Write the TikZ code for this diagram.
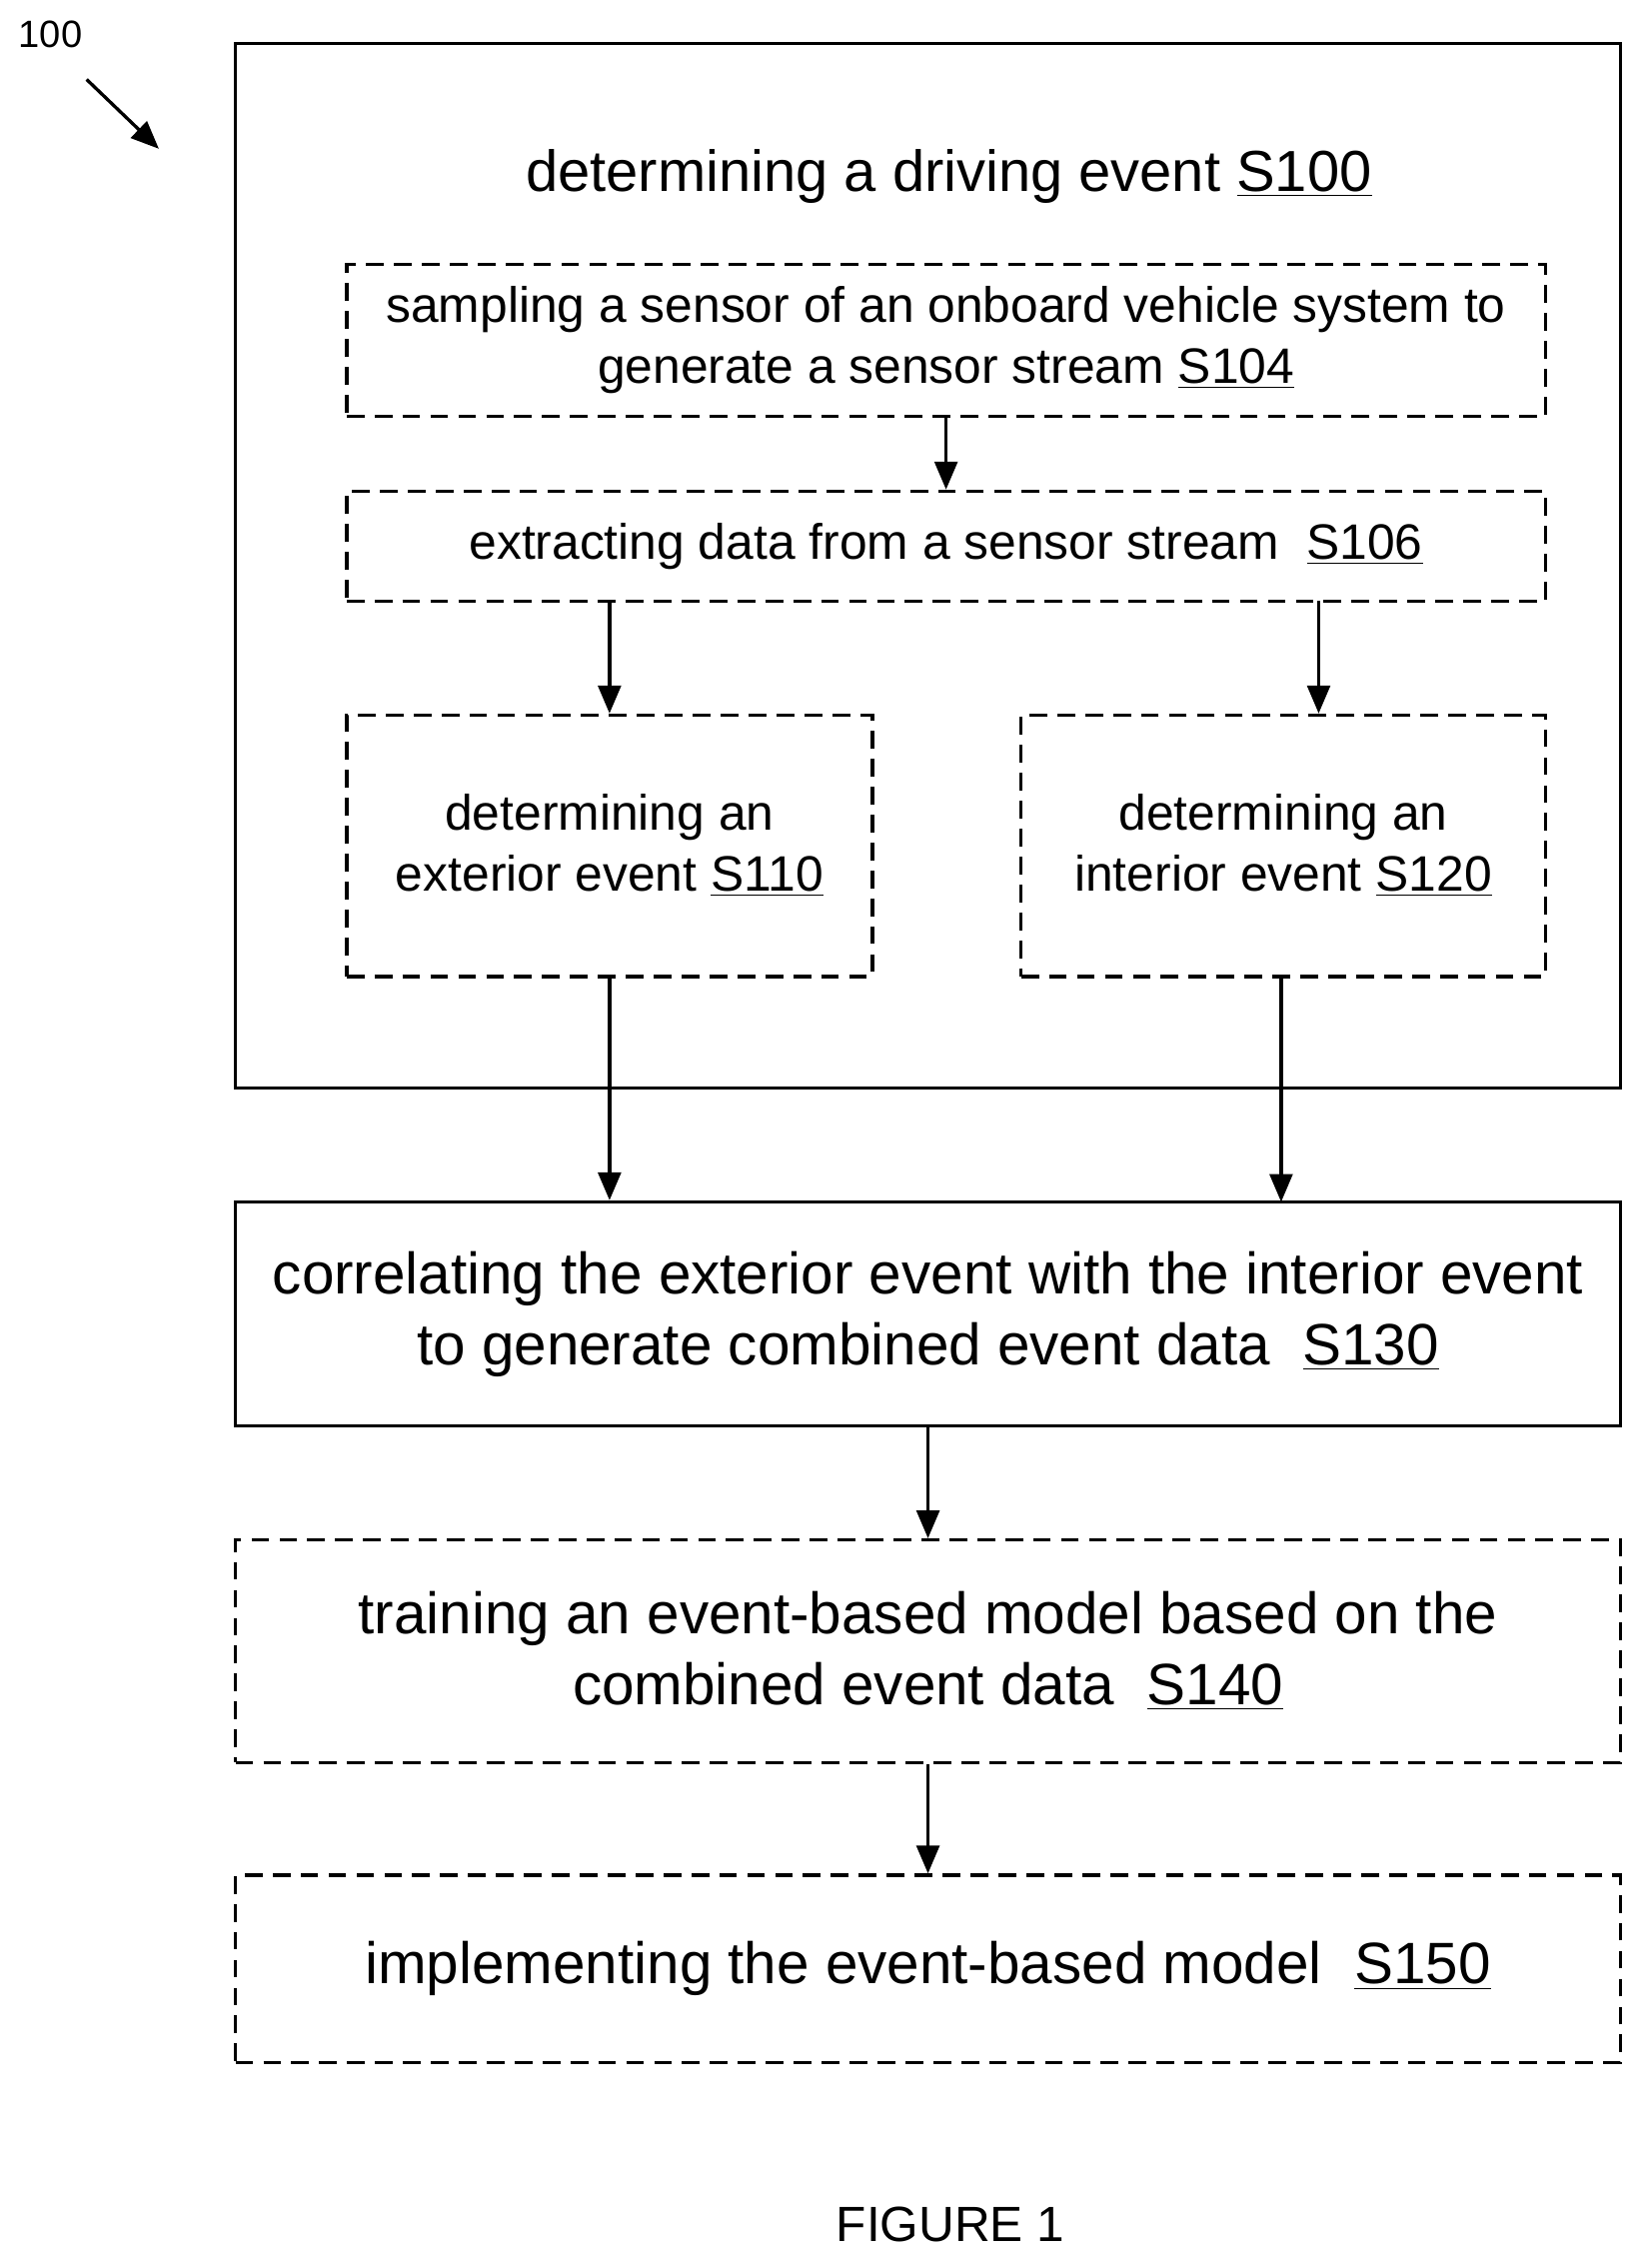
\documentclass[tikz,border=0pt]{standalone}
\usepackage{fontspec}
\setmainfont{Liberation Sans}
\usetikzlibrary{arrows.meta}
\tikzstyle{solidbox} = [rectangle, draw=black, line width=1.3pt, align=center, inner sep=0pt, font=\fontsize{23}{28}\selectfont]
\tikzstyle{dashbox} = [rectangle, draw=black, line width=1.3pt, dash pattern=on 7pt off 4pt, align=center, inner sep=0pt, font=\fontsize{19.6}{24}\selectfont]
\tikzstyle{bigdash} = [dashbox, font=\fontsize{23}{28}\selectfont]
\tikzstyle{arrow} = [line width=1.3pt, -{Triangle[length=11pt, width=9pt]}]

\begin{document}
\begin{tikzpicture}[x=0.02cm, y=-0.02cm]
\useasboundingbox (0,0) rectangle (1140,1570);

\node (outer) [solidbox, minimum width=959*0.02cm, minimum height=723*0.02cm] at (642.5,391.5) {};
\node (title) [font=\fontsize{22.8}{27}\selectfont] at (657,122) {determining a driving event \underline{S100}};
\node (sample) [dashbox, minimum width=830*0.02cm, minimum height=105*0.02cm] at (655,235.5) {sampling a sensor of an onboard vehicle system to\\ generate a sensor stream \underline{S104}};
\node (extract) [dashbox, minimum width=830*0.02cm, minimum height=76*0.02cm] at (655,378) {extracting data from a sensor stream \ \underline{S106}};
\node (exterior) [dashbox, minimum width=364*0.02cm, minimum height=181*0.02cm] at (422,585.5) {determining an\\ exterior event \underline{S110}};
\node (interior) [dashbox, minimum width=363*0.02cm, minimum height=181*0.02cm] at (888.5,585.5) {determining an\\ interior event \underline{S120}};
\node (correlate) [solidbox, minimum width=959*0.02cm, minimum height=155*0.02cm] at (642.5,909.5) {correlating the exterior event with the interior event\\ to generate combined event data \ \underline{S130}};
\node (train) [bigdash, minimum width=959*0.02cm, minimum height=154*0.02cm] at (642.5,1143) {training an event-based model based on the\\ combined event data \ \underline{S140}};
\node (implement) [bigdash, minimum width=959*0.02cm, minimum height=130*0.02cm] at (642.5,1363) {implementing the event-based model \ \underline{S150}};
\node (figlabel) [font=\fontsize{19.5}{23}\selectfont] at (658,1540) {FIGURE 1};
\node (ref) [font=\fontsize{15}{18}\selectfont] at (35,24) {100};
\coordinate (reftail) at (60,55);
\coordinate (refhead) at (110,103);
\coordinate (intop) at (913,416);

\draw [arrow] (reftail) -- (refhead);
\draw [arrow] (sample) -- (extract);
\draw [arrow] (extract.south -| exterior.north) -- (exterior);
\draw [arrow] (intop) -- (intop |- interior.north);
\draw [arrow] (exterior.south) -- (exterior.south |- correlate.north);
\draw [arrow] (interior.south -| 887,0) -- (887,832);
\draw [arrow] (correlate) -- (train);
\draw [arrow] (train) -- (implement);

\end{tikzpicture}
\end{document}
